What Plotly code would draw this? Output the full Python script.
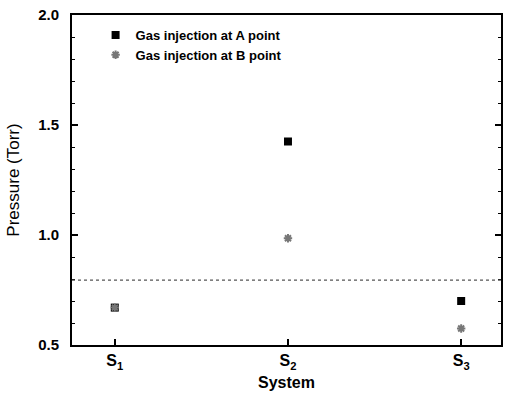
import plotly.graph_objects as go

systems = [1, 2, 3]
tick_labels = ["<b>S<sub>1</sub></b>", "<b>S<sub>2</sub></b>", "<b>S<sub>3</sub></b>"]
series_a = [0.67, 1.425, 0.70]
series_b = [0.67, 0.985, 0.575]
threshold = 0.795

font_family = "Liberation Sans, Arial, sans-serif"

fig = go.Figure()
fig.add_trace(go.Scatter(
    x=systems, y=series_a, mode="markers", name="<b>Gas injection at A point</b>",
    marker=dict(symbol="square", size=8, color="black"),
))
fig.add_trace(go.Scatter(
    x=systems, y=series_b, mode="markers", name="<b>Gas injection at B point</b>",
    marker=dict(symbol="asterisk-open", size=7, color="#777777", line=dict(width=2, color="#777777")),
))
fig.add_shape(type="line", xref="paper", yref="y", x0=0, x1=1, y0=threshold, y1=threshold,
              line=dict(color="#555555", width=1.2, dash="dot"))

fig.update_layout(
    width=506, height=397,
    margin=dict(l=72, r=3, t=15, b=52),
    paper_bgcolor="white", plot_bgcolor="white",
    font=dict(family=font_family, color="black"),
    showlegend=True,
    legend=dict(x=0.055, y=0.985, xanchor="left", yanchor="top", bgcolor="rgba(0,0,0,0)",
                font=dict(size=13, family=font_family), itemwidth=30, tracegroupgap=0),
    xaxis=dict(
        range=[0.753, 3.23], tickmode="array", tickvals=systems, ticktext=tick_labels,
        showline=True, linecolor="black", linewidth=2, mirror=True,
        ticks="inside", ticklen=6, tickwidth=1.5, tickcolor="black",
        showgrid=False, zeroline=False,
        tickfont=dict(size=16, family=font_family),
        title=dict(text="<b>System</b>", font=dict(size=16, family=font_family), standoff=6),
    ),
    yaxis=dict(
        range=[0.5, 2.0], tickmode="array", tickvals=[0.5, 1.0, 1.5, 2.0],
        ticktext=["<b>0.5</b>", "<b>1.0</b>", "<b>1.5</b>", "<b>2.0</b>"],
        showline=True, linecolor="black", linewidth=2, mirror="ticks",
        ticks="inside", ticklen=6, tickwidth=1.5, tickcolor="black",
        minor=dict(ticks="inside", ticklen=3, tickwidth=1, dtick=0.1, tickcolor="black"),
        showgrid=False, zeroline=False,
        ticklabelstandoff=8,
        tickfont=dict(size=15, family=font_family),
        title=dict(text="Pressure (Torr)", font=dict(size=17, family=font_family), standoff=14),
    ),
)

fig.write_html("out.html")
